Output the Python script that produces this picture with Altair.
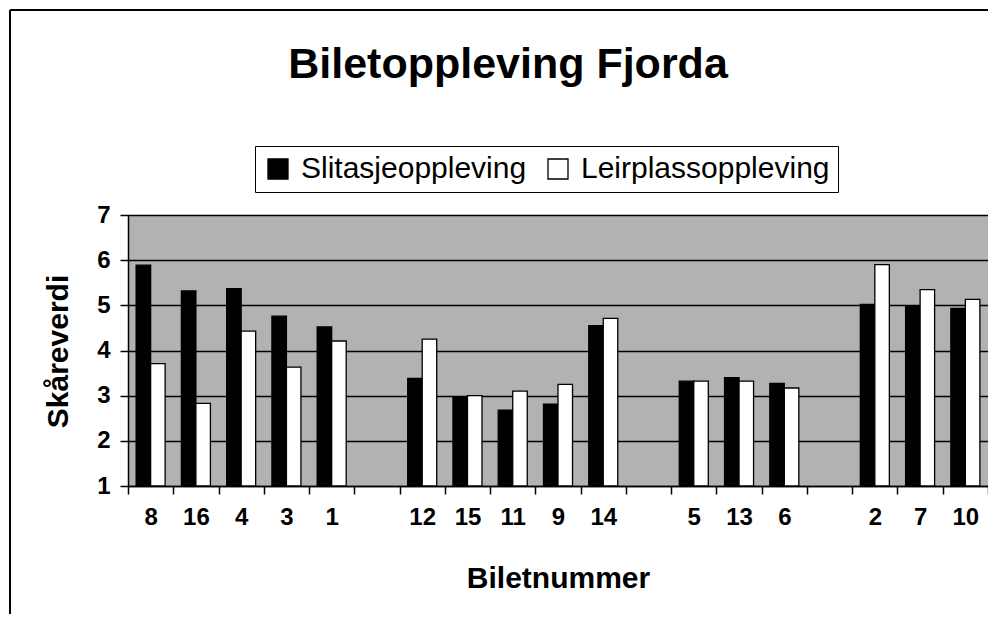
import altair as alt
import pandas as pd

categories = ["8", "16", "4", "3", "1", "_a", "12", "15", "11", "9", "14", "_b",
              "5", "13", "6", "_c", "2", "7", "10"]
pictures = ["8", "16", "4", "3", "1", "12", "15", "11", "9", "14", "5", "13", "6", "2", "7", "10"]
slitasje = [5.89, 5.32, 5.37, 4.76, 4.52, 3.38, 2.98, 2.68, 2.81, 4.55, 3.32, 3.40, 3.27, 5.02, 4.97, 4.93]
leirplass = [3.71, 2.83, 4.43, 3.63, 4.21, 4.25, 3.00, 3.10, 3.25, 4.71, 3.32, 3.32, 3.17, 5.90, 5.35, 5.13]
series = ["Slitasjeoppleving", "Leirplassoppleving"]

rows = []
for p, a, b in zip(pictures, slitasje, leirplass):
    rows.append({"Bilete": p, "Serie": series[0], "Verdi": a})
    rows.append({"Bilete": p, "Serie": series[1], "Verdi": b})
df = pd.DataFrame(rows)

FONT = "Liberation Sans"

bars = alt.Chart(df).mark_bar(stroke="black", strokeWidth=1.3, clip=True).encode(
    x=alt.X("Bilete:N", sort=categories,
            scale=alt.Scale(domain=categories, paddingInner=0, paddingOuter=0),
            axis=alt.Axis(title="Biletnummer", labelAngle=0, tickBand="extent",
                          labelExpr="indexof(datum.label, '_') == 0 ? '' : datum.label",
                          labelFont=FONT, labelFontSize=24, labelFontWeight="bold",
                          labelColor="black", labelPadding=11,
                          tickSize=8, tickColor="black", tickWidth=1.5,
                          domainColor="black", domainWidth=1.5,
                          titleFont=FONT, titleFontSize=30, titleFontWeight="bold",
                          titleColor="black", titleY=92, titleBaseline="middle")),
    xOffset=alt.XOffset("Serie:N", sort=series,
                        scale=alt.Scale(domain=series, paddingInner=0, paddingOuter=0.56)),
    y=alt.Y("Verdi:Q", scale=alt.Scale(domain=[1, 7], nice=False, zero=False),
            axis=alt.Axis(title="Skåreverdi", values=[1, 2, 3, 4, 5, 6, 7],
                          labelFont=FONT, labelFontSize=24, labelFontWeight="bold",
                          labelColor="black", labelPadding=10,
                          tickSize=8, tickColor="black", tickWidth=1.5,
                          domainColor="black", domainWidth=1.5,
                          grid=True, gridColor="black", gridWidth=1.5,
                          titleFont=FONT, titleFontSize=30, titleFontWeight="bold",
                          titleColor="black", titleX=-70, titleY=136,
                          titleBaseline="middle", titleAlign="center", titleAngle=-90)),
    y2=alt.datum(1),
    fill=alt.Fill("Serie:N", sort=series,
                  scale=alt.Scale(domain=series, range=["black", "white"]),
                  legend=alt.Legend(title=None, orient="none", legendX=127, legendY=-69,
                                    direction="horizontal", symbolType="square",
                                    symbolSize=400, symbolStrokeColor="black",
                                    symbolStrokeWidth=1.3, labelFont=FONT,
                                    labelFontSize=30, labelColor="black",
                                    labelOffset=8, columnPadding=16,
                                    strokeColor="black", fillColor="white",
                                    padding=8, labelLimit=400)),
)

frame_top = alt.Chart(df).mark_rule(color="black", strokeWidth=1.2, clip=False).encode(
    x=alt.value(-118), x2=alt.value(870), y=alt.value(-205))
frame_left = alt.Chart(df).mark_rule(color="black", strokeWidth=1.2, clip=False).encode(
    x=alt.value(-118), y=alt.value(-205), y2=alt.value(420))

chart = alt.layer(bars, frame_top, frame_left).properties(
    width=860, height=271,
    title=alt.TitleParams("Biletoppleving Fjorda", font=FONT, fontSize=43,
                          fontWeight="bold", color="black", anchor="middle",
                          dx=-50, offset=-112, baseline="alphabetic"),
    autosize=alt.AutoSizeParams(type="none"),
    padding={"left": 120, "top": 207, "right": 0, "bottom": 128},
    background="white",
).configure_view(fill="#b2b2b2", stroke="#444444", strokeWidth=1)

chart.save("out.html", embed_options={"renderer": "svg", "actions": False})
